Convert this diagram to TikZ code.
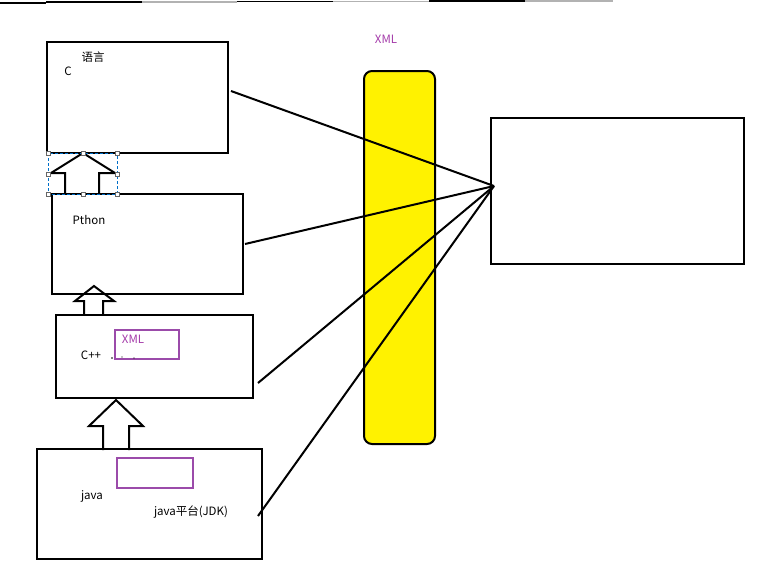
\documentclass[tikz,border=0pt]{standalone}
\usepackage{fontspec}
\setmainfont{Noto Sans CJK SC}
\begin{document}
\begin{tikzpicture}[x=1pt,y=-1pt,
  box/.style={draw=black,line width=2pt,fill=white,anchor=north west,inner sep=0pt,outer sep=0pt},
  pbox/.style={draw=boxpurple,line width=2pt,anchor=north west,inner sep=0pt,outer sep=0pt},
  lbl/.style={font=\fontsize{11.5}{13}\selectfont,inner sep=0pt},
  plbl/.style={lbl,text=xmlpurple},
  conn/.style={line width=2pt,black},
  uparrow/.style={line width=2pt,black,line join=miter},
  handle/.style={draw=gray!80!black,fill=white,line width=0.5pt,minimum size=4pt,inner sep=0pt}
]
\definecolor{xmlpurple}{RGB}{165,60,170}
\definecolor{boxpurple}{RGB}{155,75,170}
\definecolor{selblue}{RGB}{0,110,200}
\definecolor{xmlyellow}{RGB}{255,242,0}
\useasboundingbox (0,0) rectangle (768,576);
\fill[white] (0,0) rectangle (768,576);
% top strip
\draw[line width=2pt,black] (0,2.5) -- (46,2.5);
\draw[line width=2pt,black] (46,2) -- (142,2);
\draw[line width=1.5pt,gray!60] (142,2) -- (237,2);
\draw[line width=1.5pt,black] (237,1.5) -- (333,1.5);
\draw[line width=1.5pt,gray!60] (333,1.5) -- (429,1.5);
\draw[line width=1.2pt,black] (429,1) -- (525,1);
\draw[line width=1.2pt,gray!60] (525,1) -- (613,1);
% XML bar
\node[draw=black,line width=2pt,fill=xmlyellow,rounded corners=8pt,anchor=north west,minimum width=71pt,minimum height=373pt,inner sep=0pt] (bar) at (363,70) {};
\node[plbl] (barlbl) at (386,39) {XML};
% right box
\node[box,minimum width=253pt,minimum height=146pt] (target) at (491,118) {};
% C box
\node[box,minimum width=181pt,minimum height=111pt] (cbox) at (47,42) {};
\node[lbl] (ctitle) at (93,57) {语言};
\node[lbl] (clbl) at (68,71) {C};
% Pthon box
\node[box,minimum width=191pt,minimum height=100pt] (pbox) at (52,194) {};
\node[lbl] (plbl) at (89,220) {Pthon};
% C++ box
\node[box,minimum width=197pt,minimum height=83pt] (cppbox) at (56,315) {};
\node[pbox,minimum width=64pt,minimum height=29pt] (cppxml) at (115,330) {};
\node[plbl] (cppxmllbl) at (133,339) {XML};
\node[lbl] (cpplbl) at (91,355) {C++};
\fill (112,358) circle (0.8pt) (122,357) circle (0.6pt) (134,358) circle (0.6pt);
% java box
\node[box,minimum width=225pt,minimum height=110pt] (javabox) at (37,449) {};
\node[pbox,minimum width=76pt,minimum height=30pt] (javaxml) at (117,458) {};
\node[lbl] (javalbl) at (92,496) {java};
\node[lbl] (jdklbl) at (191,512) {java平台(JDK)};
% arrows between boxes
\draw[uparrow] (65,194) -- (65,173) -- (51,173) -- (83,153) -- (115,173) -- (99,173) -- (99,194);
\draw[uparrow] (84,314) -- (84,301) -- (75,301) -- (94,286) -- (114,301) -- (103,301) -- (103,314);
\draw[uparrow] (103,450) -- (103,426) -- (89,426) -- (116,400) -- (143,426) -- (129,426) -- (129,450);
% selection frame
\draw[selblue,line width=0.8pt,dash pattern=on 3pt off 2pt] (48,153) rectangle (117,194);
\foreach \p in {(48,153),(83,153),(117,153),(48,174),(117,174),(48,194),(83,194),(117,194)}
  \node[handle] at \p {};
% connectors
\coordinate (hub) at (494,186);
\coordinate (cout) at (231,91);
\coordinate (pout) at (245,244);
\coordinate (cppout) at (258,383);
\coordinate (javaout) at (258,516);
\draw[conn] (cout) -- (hub);
\draw[conn] (pout) -- (hub);
\draw[conn] (cppout) -- (hub);
\draw[conn] (javaout) -- (hub);
\end{tikzpicture}
\end{document}
